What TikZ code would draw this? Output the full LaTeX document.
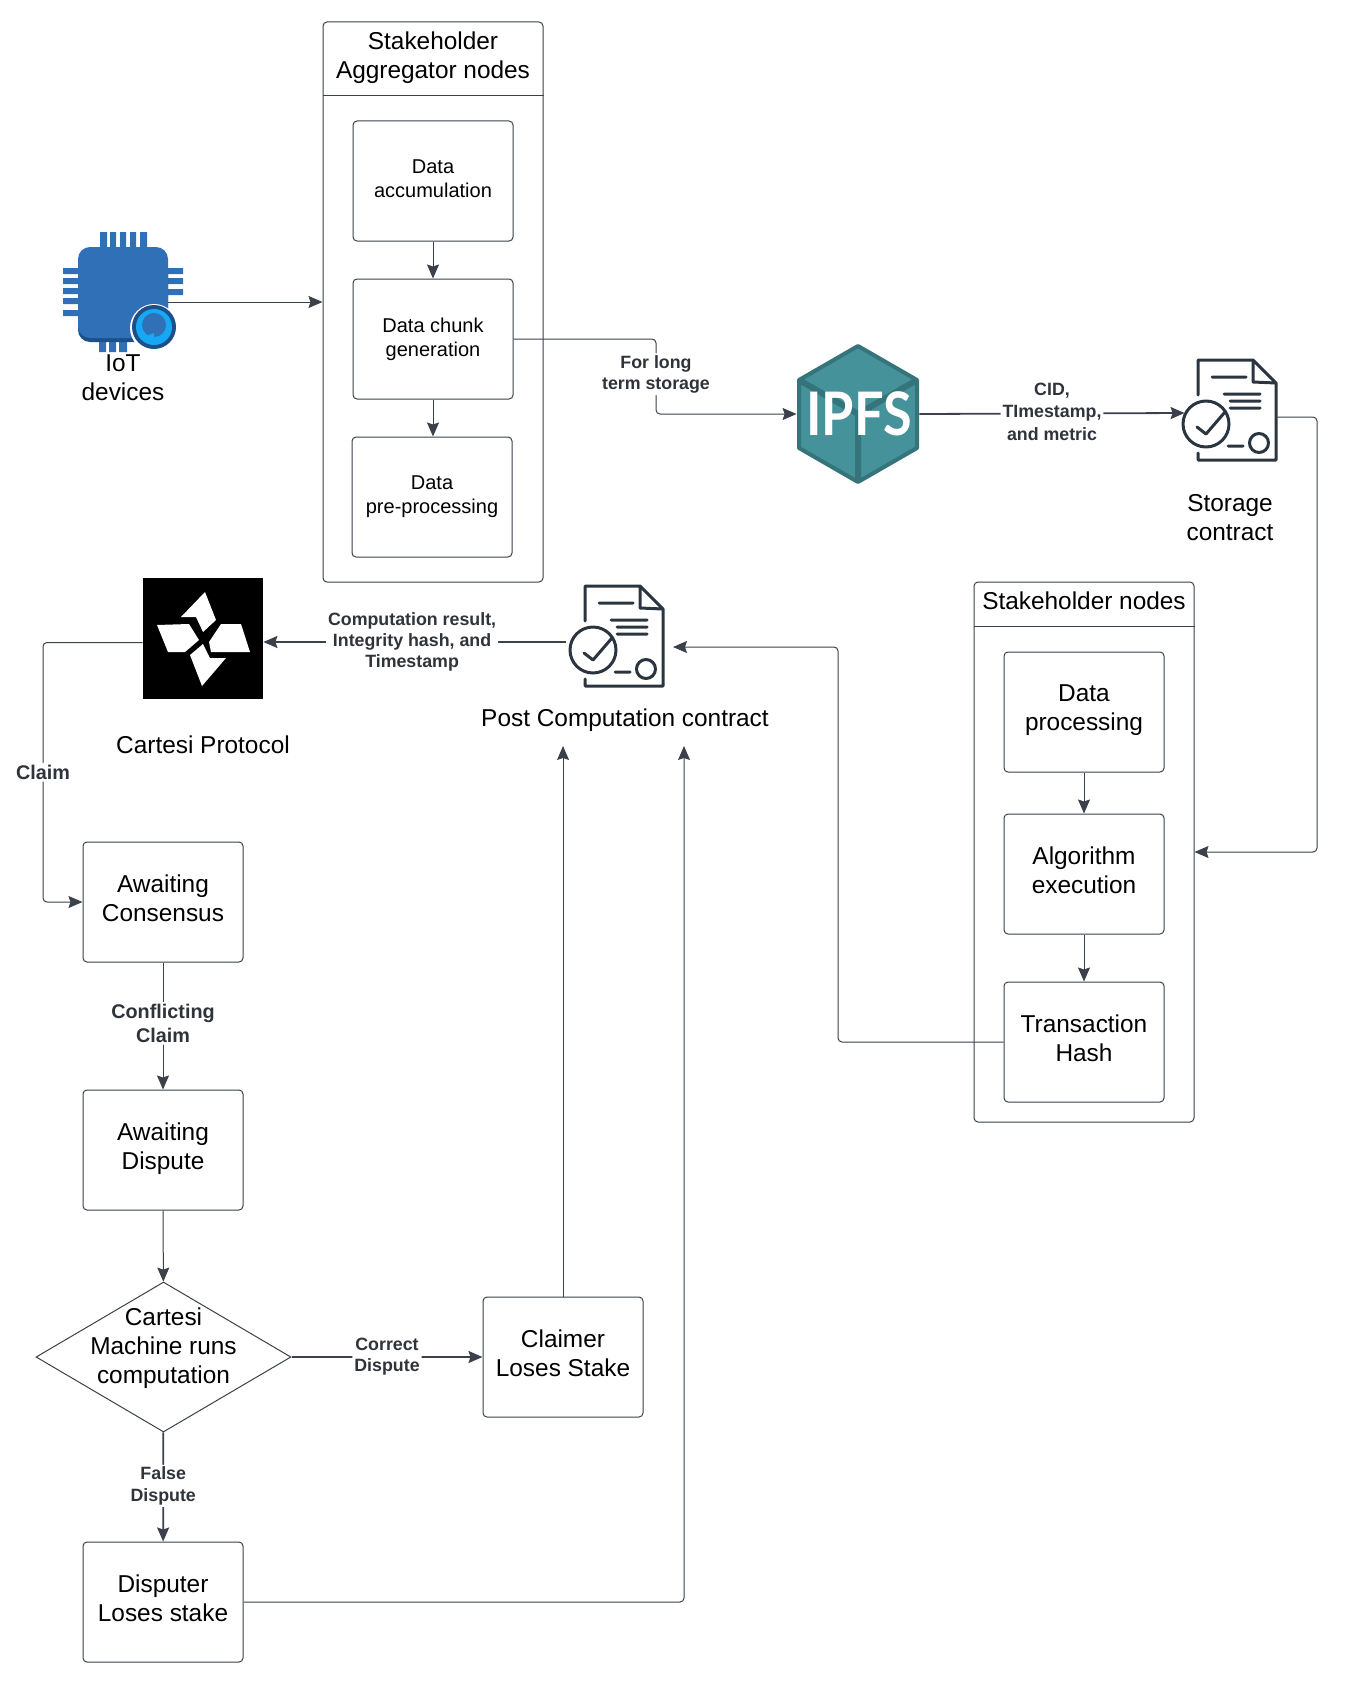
\documentclass[tikz,border=0pt]{standalone}
\usepackage{fontspec}
\setmainfont{Liberation Sans}
\newfontfamily\ipfsfont[FakeStretch=0.87]{Lato}
\usepackage{tikz}
\usetikzlibrary{arrows.meta,shapes.geometric,positioning}

\definecolor{linegray}{HTML}{3A414A}
\definecolor{labelgray}{HTML}{2F343B}
\definecolor{chipblue}{HTML}{2F70B6}
\definecolor{chipdark}{HTML}{1D4F88}
\definecolor{ringblue}{HTML}{17A8F5}
\definecolor{ipfsteal}{HTML}{45929A}
\definecolor{ipfsdark}{HTML}{35747B}
\definecolor{docgray}{HTML}{2B3540}

\tikzset{
  frame/.style={draw=linegray, line width=0.5pt, rounded corners=2pt},
  stagebox/.style={frame, minimum width=110pt},
  smallbox/.style={frame, minimum width=80pt, minimum height=60pt, align=center, text depth=2.2pt, font=\fontsize{10}{12}\selectfont},
  bigbox/.style={frame, minimum width=80pt, minimum height=60pt, align=center, text depth=4.3pt, font=\fontsize{12.2}{14.5}\selectfont},
  bigtext/.style={align=center, inner sep=0pt, font=\fontsize{12.2}{14.5}\selectfont},
  decision/.style={draw=linegray, line width=0.5pt, diamond, minimum width=127.5pt, minimum height=75pt, inner sep=0pt},
  icon/.style={inner sep=0pt},
  link/.style={draw=linegray, line width=0.5pt, ->, rounded corners=2pt},
  heavylink/.style={link, line width=0.9pt},
  edgelabel/.style={fill=white, inner sep=1pt, align=center, text=labelgray, font=\bfseries\fontsize{8.9}{10.6}\selectfont},
  largelabel/.style={edgelabel, font=\bfseries\fontsize{9.9}{12}\selectfont},
  contract/.pic={
    \draw[docgray, line width=1.5pt, line cap=round, line join=round]
      (-8,-29) -- (-8,-64) -- (47,-64) -- (70,-41) -- (70,36) -- (-8,36) -- (-8,29)
      (47,-64) -- (47,-42) -- (70,-41)
      (6,-47) -- (40,-47)
      (18,-30) -- (54,-30)
      (24,-23) -- (54,-23)
      (24,-16) -- (54,-16)
      (0,0) circle[radius=23]
      (-9,3) -- (0,10) -- (19,-12)
      (22,22) -- (37,22)
      (53,19) circle[radius=9.5];
  }
}

\begin{document}
\begin{tikzpicture}[x=0.5pt, y=-0.5pt, >={Stealth[length=7pt,width=6pt,inset=1pt]}]
  \useasboundingbox (0,0) rectangle (1358,1691);

  % Aggregator column
  \node[stagebox, minimum height=280pt] (aggregator) at (433,302) {};
  \node[bigtext] (aggregatortitle) at (433,58) {Stakeholder\\Aggregator nodes};
  \draw[frame] (aggregator.west |- 0,96) -- (aggregator.east |- 0,96);
  \node[smallbox] (accumulation) at (433,181) {Data\\accumulation};
  \node[smallbox] (chunk) at (433,339) {Data chunk\\generation};
  \node[smallbox] (preprocessing) at (432,497) {Data\\pre-processing};
  \draw[link] (accumulation) -- (chunk);
  \draw[link] (chunk) -- (preprocessing.north -| chunk);

  % Stakeholder column
  \node[stagebox, minimum height=270pt] (stakeholders) at (1084,852) {};
  \node[bigtext] (stakeholderstitle) at (1084,601) {Stakeholder nodes};
  \draw[frame] (stakeholders.west |- 0,626) -- (stakeholders.east |- 0,626);
  \node[bigbox] (processing) at (1084,712) {Data\\processing};
  \node[bigbox] (algorithm) at (1084,874) {Algorithm\\execution};
  \node[bigbox] (txhash) at (1084,1042) {Transaction\\Hash};
  \draw[link] (processing) -- (algorithm);
  \draw[link] (algorithm) -- (txhash);

  % IoT chip
  \node[icon, minimum width=45pt, minimum height=45.5pt] (iot) at (123,292) {};
  \fill[chipblue]
    (100,232) rectangle (107,248) (110,232) rectangle (116,248) (120,232) rectangle (126,248)
    (130,232) rectangle (136,248) (140,232) rectangle (147,248)
    (99,335) rectangle (106,352) (109,335) rectangle (116,352) (119,335) rectangle (127,352)
    (63,268) rectangle (80,274) (63,278) rectangle (80,284) (63,288) rectangle (80,294)
    (63,298) rectangle (80,304) (63,310) rectangle (80,316)
    (166,268) rectangle (183,274) (166,278) rectangle (183,284) (166,289) rectangle (183,295);
  \fill[chipdark, rounded corners=6pt] (78,260) rectangle (168,342);
  \fill[chipblue, rounded corners=6pt] (78,247) rectangle (168,338);
  \fill[white] (154,328) circle[radius=24];
  \fill[chipdark] (154,327) circle[radius=22];
  \fill[ringblue] (154,327) circle[radius=18];
  \fill[chipblue] (154,325) circle[radius=12];
  \fill[ringblue] (148,335) -- (154,341) -- (154,333) -- cycle;
  \node[bigtext] (iotlabel) at (123,378) {IoT\\devices};

  % IPFS cube
  \node[icon, minimum width=61pt, minimum height=70pt] (ipfs) at (858,414) {};
  \fill[ipfsteal] (858,346) -- (917,380) -- (917,448) -- (858,482) -- (799,448) -- (799,380) -- cycle;
  \draw[ipfsdark, line width=2pt, line join=round] (858,346) -- (917,380) -- (917,448) -- (858,482) -- (799,448) -- (799,380) -- cycle;
  \draw[ipfsdark, line width=3pt] (799,380) -- (858,414) -- (917,380) (858,414) -- (858,482);
  \node[text=white, inner sep=0pt, font=\ipfsfont\bfseries\fontsize{30}{30}\selectfont] (ipfstext) at (859,414) {IPFS};

  % Contracts
  \node[icon, minimum width=46pt, minimum height=51pt] (storage) at (1231,413) {};
  \pic at (1206,424) {contract};
  \node[bigtext] (storagelabel) at (1230,518) {Storage\\contract};
  \node[icon, minimum width=49.5pt, minimum height=51pt] (post) at (615.5,642) {};
  \pic at (593,650) {contract};
  \node[bigtext] (postlabel) at (625,720) {Post Computation contract};

  % Cartesi logo
  \node[icon, fill=black, minimum width=60pt, minimum height=60.5pt] (cartesi) at (203,638.5) {};
  \fill[white] (205,592) -- (216,620) -- (203,632) -- (196,617) -- (181,617) -- cycle;
  \fill[white] (157,625) -- (189,624) -- (199,640) -- (185,652) -- (168,652) -- cycle;
  \fill[white] (209,642) -- (221,624) -- (241,624) -- (250,652) -- (211,652) -- cycle;
  \fill[white] (190,655) -- (203,644) -- (210,658) -- (226,658) -- (202,686) -- cycle;
  \node[bigtext] (cartesilabel) at (203,745) {Cartesi Protocol};

  % Cartesi flow
  \node[bigbox] (consensus) at (163,902) {Awaiting\\Consensus};
  \node[bigbox] (dispute) at (163,1150) {Awaiting\\Dispute};
  \node[decision] (machine) at (163.5,1357) {};
  \node[bigtext] (machinetext) at (163.5,1348) {Cartesi\\Machine runs\\computation};
  \node[bigbox] (claimer) at (563,1357) {Claimer\\Loses Stake};
  \node[bigbox] (disputer) at (163,1602) {Disputer\\Loses stake};

  \coordinate (claimturn) at (43,902);
  \coordinate (chunkturn) at (656,376);
  \coordinate (storageturn) at (1317,852);
  \coordinate (txturn) at (838,1042);
  \coordinate (postright) at (673,647);
  \coordinate (postentry) at (625,746);
  \coordinate (disputerturn) at (684,1602);

  % Connectors
  \draw[link] ([yshift=-5pt]iot.east) -- ([yshift=-5pt]iot.east -| aggregator.west);
  \draw[link] (chunk.east) -- (chunk.east -| chunkturn) -- node[edgelabel, pos=0.47] {For long\\term storage} (chunkturn |- ipfs.west) -- (ipfs.west);
  \draw[heavylink] (ipfs.east) -- node[edgelabel, pos=0.5, yshift=1pt] {CID,\\[0.7pt]TImestamp,\\[0.7pt]and metric} (storage.west);
  \draw[link] ([yshift=-2pt]storage.east) -| (storageturn) -- (stakeholders.east);
  \draw[link] (txhash.west) -- (txturn) -- (txturn |- postright) -- (postright);
  \draw[heavylink] (post.west) -- node[edgelabel, pos=0.508] {Computation result,\\Integrity hash, and\\Timestamp} (post.west -| cartesi.east);
  \draw[link] ([yshift=-2pt]cartesi.west) -- ([yshift=-2pt]cartesi.west -| claimturn) -- node[largelabel, pos=0.5] {Claim} (claimturn) -- (consensus.west);
  \draw[link] (consensus) -- node[largelabel, pos=0.48] {Conflicting\\Claim} (dispute);
  \draw[link] (dispute) -- (machine);
  \draw[heavylink] (machine) -- node[edgelabel, pos=0.5] {Correct\\Dispute} (claimer);
  \draw[heavylink] (machine) -- node[edgelabel, pos=0.49] {False\\Dispute} (disputer);
  \draw[link] (claimer.north) -- (claimer.north |- postentry);
  \draw[link] (disputer.east) -- (disputerturn) -- (disputerturn |- postentry);
\end{tikzpicture}
\end{document}
